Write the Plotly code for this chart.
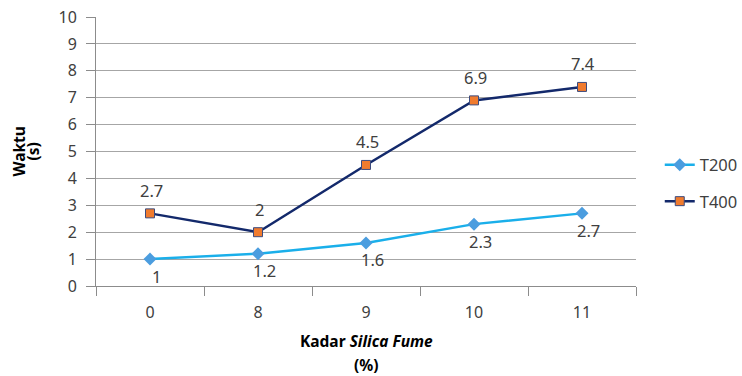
import plotly.graph_objects as go

# Silica fume content (%) and measured times (s)
kadar = ["0", "8", "9", "10", "11"]
t200 = [1, 1.2, 1.6, 2.3, 2.7]
t400 = [2.7, 2, 4.5, 6.9, 7.4]

FONT = "Noto Sans"
TXT = "#404040"
LBL = 16.5

fig = go.Figure()
fig.add_trace(go.Scatter(
    x=kadar, y=t200, name="T200", mode="lines+markers",
    line=dict(color="#1AAFEA", width=2.5),
    marker=dict(symbol="diamond", size=10, color="#4B9DDF", line=dict(width=0)),
    legendgroup="a",
))
fig.add_trace(go.Scatter(
    x=kadar, y=t400, name="T400", mode="lines+markers",
    line=dict(color="#13296B", width=2.5),
    marker=dict(symbol="square", size=9, color="#F07B2E",
                line=dict(color="#3C4B7E", width=1)),
    legendgroup="b",
))

annotations = []
# value labels: T400 above its points, T200 below (x as category index)
for i, v in enumerate(t400):
    annotations.append(dict(x=i, y=v, text=f"{v:g}", showarrow=False,
                            yshift=23, xshift=1, font=dict(size=LBL, color=TXT, family=FONT)))
for i, v in enumerate(t200):
    annotations.append(dict(x=i, y=v, text=f"{v:g}", showarrow=False,
                            yshift=-17, xshift=6, font=dict(size=LBL, color=TXT, family=FONT)))

# axis titles
TF = dict(size=15.5, color="#000", family=FONT)
annotations += [
    dict(xref="paper", yref="paper", x=0.5, y=-0.2045, text="<b>Kadar <i>Silica Fume</i></b>",
         showarrow=False, yanchor="middle", font=TF),
    dict(xref="paper", yref="paper", x=0.5, y=-0.2937, text="<b>(%)</b>",
         showarrow=False, yanchor="middle", font=TF),
    dict(xref="paper", yref="paper", x=-0.1444, y=0.5, text="<b>Waktu</b>", textangle=-90,
         showarrow=False, xanchor="center", yanchor="middle", font=TF),
    dict(xref="paper", yref="paper", x=-0.1167, y=0.5, text="<b>(s)</b>", textangle=-90,
         showarrow=False, xanchor="center", yanchor="middle", font=TF),
]

fig.update_layout(
    width=742, height=376,
    margin=dict(l=96, r=106, t=17, b=90, autoexpand=False),
    paper_bgcolor="white", plot_bgcolor="white",
    font=dict(family=FONT, size=16, color=TXT),
    annotations=annotations,
    legend=dict(x=1.044, y=0.383, xanchor="left", yanchor="middle",
                font=dict(size=16.5, color=TXT, family=FONT),
                tracegroupgap=12, traceorder="grouped", bgcolor="rgba(0,0,0,0)"),
    xaxis=dict(
        type="category", range=[-0.5, 4.5],
        showline=True, linecolor="#8C8C8C", linewidth=1,
        ticks="outside", ticklen=9, tickcolor="#8C8C8C", tickson="boundaries",
        showgrid=False, ticklabelstandoff=12, automargin=False,
        tickfont=dict(size=16, color=TXT, family=FONT),
    ),
    yaxis=dict(
        range=[0, 10], dtick=1, tick0=0,
        showline=True, linecolor="#8C8C8C", linewidth=1,
        ticks="outside", ticklen=9, tickcolor="#8C8C8C",
        showgrid=True, gridcolor="#A6A6A6", gridwidth=1,
        zeroline=False, ticklabelstandoff=6, automargin=False,
        tickfont=dict(size=16, color=TXT, family=FONT),
    ),
)

fig.write_html("out.html")
